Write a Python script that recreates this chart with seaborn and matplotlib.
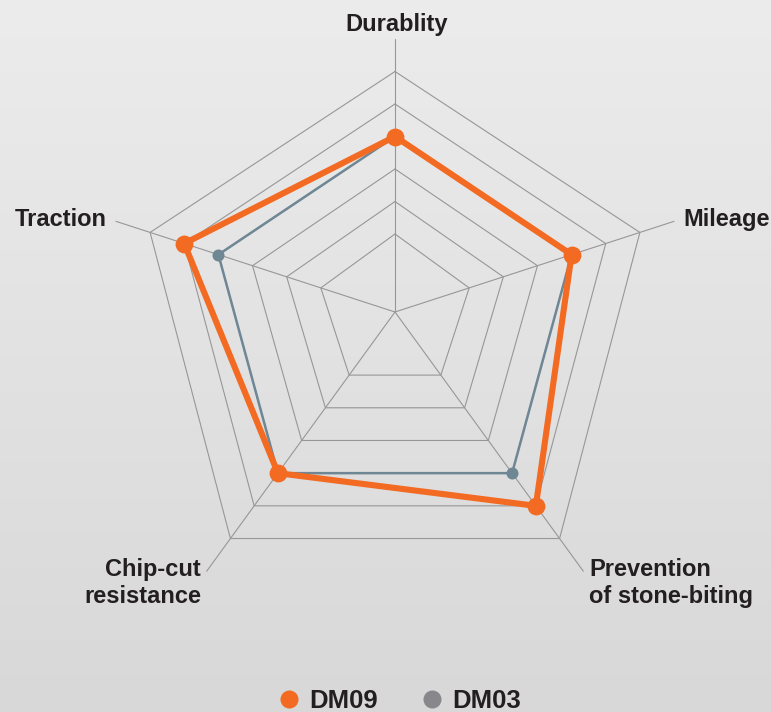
import numpy as np
import pandas as pd
import matplotlib.pyplot as plt
import seaborn as sb
from matplotlib.lines import Line2D

# Chart data: score of each tyre per attribute (grid rings are scores 1..6)
attributes = ['Durablity', 'Mileage', 'Prevention\nof stone-biting', 'Chip-cut\nresistance', 'Traction']
dm09 = [4, 4, 5, 4, 5]
dm03 = [4, 4, 4, 4, 4]
ring_levels = [1, 2, 3, 4, 5, 6]
spoke_end = 7
series_names = ['DM09', 'DM03']

sb.set_theme(style='white')
plt.rcParams['font.family'] = ['Liberation Sans', 'DejaVu Sans']

# Layout in pixels - the artwork spaces the rings differently on every spoke
cx, cy = 395, 312
inner_r = 78
spoke_step = np.array([32.5, 35.9, 40.4, 40.4, 35.9])
spoke_angle = np.deg2rad([90, 18, -54, -126, 162])

orange = '#f36a22'
slate = '#6f8794'
grid_col = '#979797'
text_col = '#231f20'


def to_xy(levels):
    levels = np.asarray(levels, dtype=float)
    r = inner_r + (levels - 1) * spoke_step
    return cx + r * np.cos(spoke_angle), cy - r * np.sin(spoke_angle)


def closed(a):
    return np.append(a, a[0])


fig = plt.figure(figsize=(7.71, 7.12), dpi=100)
ax = fig.add_axes([0, 0, 1, 1])
ax.set_xlim(0, 771)
ax.set_ylim(712, 0)
ax.axis('off')

# light grey vertical gradient background
grad = np.linspace(236, 216, 256)[:, None] / 255
ax.imshow(np.dstack([grad, grad, grad]), extent=[0, 771, 712, 0], aspect='auto', zorder=0)

# grid: rings and spokes
for lvl in ring_levels:
    gx, gy = to_xy([lvl] * 5)
    ax.plot(closed(gx), closed(gy), color=grid_col, lw=0.8, zorder=1)
sx, sy = to_xy([spoke_end] * 5)
for x, y in zip(sx, sy):
    ax.plot([cx, x], [cy, y], color=grid_col, lw=0.8, zorder=1)

# series
df = pd.DataFrame({'attribute': attributes, 'DM09': dm09, 'DM03': dm03})

x3, y3 = to_xy(df['DM03'])
sb.lineplot(x=closed(x3), y=closed(y3), sort=False, estimator=None, color=slate, lw=1.8, ax=ax, zorder=3)
sb.scatterplot(x=x3, y=y3, color=slate, s=75, linewidth=0, ax=ax, zorder=4)

x9, y9 = to_xy(df['DM09'])
sb.lineplot(x=closed(x9), y=closed(y9), sort=False, estimator=None, color=orange, lw=4.4, ax=ax, zorder=5)
sb.scatterplot(x=x9, y=y9, color=orange, s=165, linewidth=0, ax=ax, zorder=6)

# attribute labels
lab_kw = dict(fontsize=17, fontweight='bold', color=text_col)
ax.text(397, 30.5, attributes[0], ha='center', va='baseline', **lab_kw)
ax.text(683, 226, attributes[1], ha='left', va='baseline', **lab_kw)
ax.text(589, 583, attributes[2], ha='left', va='center', linespacing=1.23, **lab_kw)
ax.text(201, 583, attributes[3], ha='right', va='center', multialignment='right', linespacing=1.23, **lab_kw)
ax.text(107, 226, attributes[4], ha='right', va='baseline', **lab_kw)

# legend
handles = [Line2D([], [], marker='o', ls='', ms=13, color=orange, mew=0),
           Line2D([], [], marker='o', ls='', ms=13, color='#88888c', mew=0)]
leg = ax.legend(handles, series_names, loc='center', bbox_to_anchor=(400 / 771, 1 - 701 / 712),
                ncol=2, frameon=False, handlelength=0.8, handletextpad=0.4, columnspacing=1.7,
                borderpad=0, prop={'size': 18.5, 'weight': 'bold'})
for t in leg.get_texts():
    t.set_color(text_col)

plt.savefig('out.png', dpi=100)
